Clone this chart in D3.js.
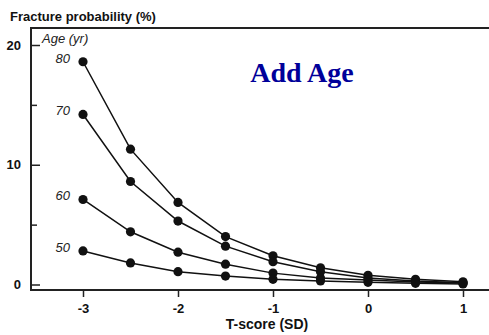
<!DOCTYPE html>
<html>
<head>
<meta charset="utf-8">
<script src="https://cdn.jsdelivr.net/npm/d3@7"></script>
<style>
  body { margin: 0; background: #fff; }
  svg { display: block; }
  text { font-family: "Liberation Sans", Arial, sans-serif; }
</style>
</head>
<body>
<svg width="489" height="335"></svg>
<script>
// values
var tScores = [-3, -2.5, -2, -1.5, -1, -0.5, 0, 0.5, 1]
var ages = [80, 70, 60, 50]
var age80 = [18.6, 11.3, 6.85, 4.0, 2.4, 1.4, 0.77, 0.43, 0.22]
var age70 = [14.2, 8.6, 5.3, 3.2, 1.9, 1.07, 0.55, 0.3, 0.15]
var age60 = [7.1, 4.4, 2.7, 1.7, 0.95, 0.55, 0.38, 0.2, 0.12]
var age50 = [2.8, 1.8, 1.07, 0.7, 0.43, 0.3, 0.18, 0.1, 0.05]
var xTicks = [-3, -2, -1, 0, 1]
var yMajor = [0, 10, 20]
var yMinor = [5, 15]

var series = [age80, age70, age60, age50]

var svg = d3.select("svg")

var frameLeft = 31, frameTop = 28, frameBottom = 290, frameRight = 489

var x = d3.scaleLinear().domain([-3, 1]).range([83, 463])
var y = d3.scaleLinear().domain([0, 20]).range([284.5, 45])

// frame
svg.append("path")
    .attr("d", "M" + frameRight + "," + frameTop + "H" + frameLeft + "V" + frameBottom + "H" + frameRight)
    .attr("fill", "none")
    .attr("stroke", "#222")
    .attr("stroke-width", 2)

// y axis (ticks point inward)
var yAxis = svg.append("g")
    .attr("transform", "translate(" + frameLeft + ",0)")
    .call(d3.axisLeft(y).tickValues(yMajor).tickSize(-9).tickPadding(10).tickFormat(String))
yAxis.select(".domain").remove()
yAxis.selectAll("line").attr("stroke", "#222").attr("stroke-width", 1.5)
yAxis.selectAll("text")
    .attr("font-size", 13).attr("font-weight", "bold").attr("fill", "#111")
    .attr("font-family", "'Liberation Sans', Arial, sans-serif")

var yMinorAxis = svg.append("g")
    .attr("transform", "translate(" + frameLeft + ",0)")
    .call(d3.axisLeft(y).tickValues(yMinor).tickSize(-6).tickFormat(""))
yMinorAxis.select(".domain").remove()
yMinorAxis.selectAll("line").attr("stroke", "#222").attr("stroke-width", 1.5)

// x axis
var xAxis = svg.append("g")
    .attr("transform", "translate(0," + frameBottom + ")")
    .call(d3.axisBottom(x).tickValues(xTicks).tickSize(7).tickPadding(7).tickFormat(String))
xAxis.select(".domain").remove()
xAxis.selectAll("line").attr("stroke", "#222").attr("stroke-width", 1.5)
xAxis.selectAll("text")
    .attr("font-size", 13).attr("font-weight", "bold").attr("fill", "#111")
    .attr("font-family", "'Liberation Sans', Arial, sans-serif")

// curves
var line = d3.line()
    .x(function (d, i) { return x(tScores[i]) })
    .y(function (d) { return y(d) })

var groups = svg.selectAll(".curve")
    .data(series)
    .enter().append("g")
    .attr("class", "curve")

groups.append("path")
    .attr("d", function (d) { return line(d) })
    .attr("fill", "none")
    .attr("stroke", "#111")
    .attr("stroke-width", 1.5)

groups.selectAll("circle")
    .data(function (d) { return d })
    .enter().append("circle")
    .attr("cx", function (d, i) { return x(tScores[i]) })
    .attr("cy", function (d) { return y(d) })
    .attr("r", 4.6)
    .attr("fill", "#111")

// age labels next to first points
svg.selectAll(".ageLabel")
    .data(ages)
    .enter().append("text")
    .attr("class", "ageLabel")
    .attr("x", x(-3) - 13)
    .attr("y", function (d, i) { return y(series[i][0]) + 1 })
    .attr("text-anchor", "end")
    .attr("font-size", 13)
    .attr("font-style", "italic")
    .attr("fill", "#222")
    .text(function (d) { return d })

svg.append("text")
    .attr("x", 42).attr("y", 43)
    .attr("font-size", 13)
    .attr("font-style", "italic")
    .attr("fill", "#222")
    .text("Age (yr)")

// titles
svg.append("text")
    .attr("x", 10).attr("y", 21)
    .attr("font-size", 13)
    .attr("font-weight", "bold")
    .attr("fill", "#111")
    .text("Fracture probability (%)")

svg.append("text")
    .attr("x", 267).attr("y", 329)
    .attr("text-anchor", "middle")
    .attr("font-size", 14)
    .attr("font-weight", "bold")
    .attr("fill", "#111")
    .text("T-score (SD)")

svg.append("text")
    .attr("x", 302).attr("y", 82)
    .attr("text-anchor", "middle")
    .attr("font-size", 28)
    .attr("font-weight", "bold")
    .attr("fill", "#00009a")
    .style("font-family", "'Liberation Serif', 'Times New Roman', serif")
    .text("Add Age")
</script>
</body>
</html>
